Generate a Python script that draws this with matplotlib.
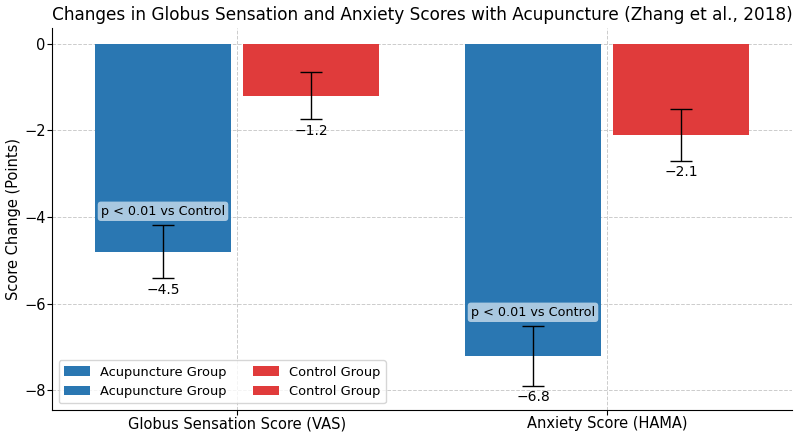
import matplotlib
matplotlib.use("Agg")
import matplotlib.pyplot as plt
import numpy as np

categories = ["Globus Sensation Score (VAS)", "Anxiety Score (HAMA)"]
series_names = ["Acupuncture Group", "Control Group"]
acupuncture = [-4.8, -7.2]
control = [-1.2, -2.1]
acupuncture_err = [0.62, 0.69]
control_err = [0.55, 0.6]
acupuncture_labels = ["\u22124.5", "\u22126.8"]
control_labels = ["\u22121.2", "\u22122.1"]
pvalue_text = "p < 0.01 vs Control"
title = "Changes in Globus Sensation and Anxiety Scores with Acupuncture (Zhang et al., 2018)"
ylabel = "Score Change (Points)"

colors = ["#2a77b2", "#e03b3b"]

fig, ax = plt.subplots(figsize=(8, 4.36), dpi=100)
fig.subplots_adjust(left=0.065, right=0.99, top=0.935, bottom=0.06)

x = np.arange(len(categories))
width = 0.37
offsets = [-0.2, 0.2]
vals = [acupuncture, control]
errs = [acupuncture_err, control_err]
labs = [acupuncture_labels, control_labels]

for s in range(2):
    for g in range(len(categories)):
        ax.bar(x[g] + offsets[s], vals[s][g], width, yerr=errs[s][g],
               color=colors[s], capsize=8, label=series_names[s],
               error_kw=dict(elinewidth=1, ecolor="black", capthick=1),
               zorder=2)
        bottom = vals[s][g] - errs[s][g]
        ax.text(x[g] + offsets[s], bottom - 0.1, labs[s][g], ha="center", va="top",
                fontsize=10, zorder=4)

for g in range(len(categories)):
    top = acupuncture[g] + acupuncture_err[g]
    ax.text(x[g] + offsets[0], top + 0.16, pvalue_text, ha="center", va="bottom",
            fontsize=9.2,
            bbox=dict(boxstyle="round,pad=0.25", facecolor="white", alpha=0.6, edgecolor="none"),
            zorder=5)

ax.set_xticks(x)
ax.set_xticklabels(categories, fontsize=10.5)
ax.set_xlim(-0.5, 1.5)
ax.set_ylim(-8.45, 0.35)
ax.set_yticks([0, -2, -4, -6, -8])
ax.set_yticklabels(["0", "\u22122", "\u22124", "\u22126", "\u22128"], fontsize=10.5)
ax.tick_params(axis="both", pad=1)
ax.set_ylabel(ylabel, fontsize=10.5, labelpad=2)
ax.set_title(title, fontsize=12.2)
ax.grid(True, linestyle="--", color="#cccccc", linewidth=0.7)
ax.set_axisbelow(True)
for sp in ["top", "right"]:
    ax.spines[sp].set_visible(False)

ax.legend(loc="lower left", ncol=2, fontsize=9.4)

fig.savefig("out.png", dpi=100)
